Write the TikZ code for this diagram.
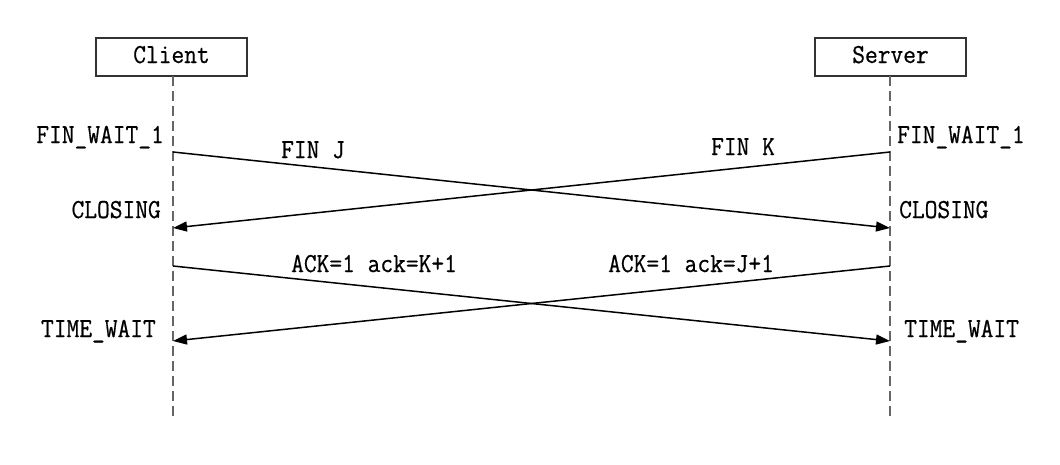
\documentclass[tikz,border=0pt]{standalone}
\usepackage{fontspec}
\newfontfamily\seqfont[FakeStretch=0.9,FakeBold=0.6]{Latin Modern Mono}
\usetikzlibrary{arrows.meta}
\begin{document}
\begin{tikzpicture}[x=1pt,y=-1pt,
  every node/.style={font=\seqfont\fontsize{27.5}{28}\selectfont, inner sep=0pt},
  actor/.style={draw=black!80, line width=1.5pt, minimum width=151pt, minimum height=38pt},
  lifeline/.style={draw=black!60, line width=2.2pt, dash pattern=on 10pt off 5pt},
  msg/.style={draw=black, line width=1.5pt, -{Triangle[length=14pt,width=10pt]}},
  lbl/.style={anchor=base west}]
  \useasboundingbox (0,0) rectangle (1060,464);

  % participants
  \node[actor] (client) at (171.5,57) {};
  \node[actor] (server) at (890.5,57) {};
  \node[anchor=base] at (171.5,63) {Client};
  \node[anchor=base] at (890.5,63) {Server};

  % lifeline ends
  \coordinate (cend) at (173,416);
  \coordinate (send) at (890,416);
  \draw[lifeline] (173,76) -- (cend);
  \draw[lifeline] (890,76) -- (send);

  % message end points on the lifelines
  \coordinate (c1) at (173,152);
  \coordinate (c2) at (173,228);
  \coordinate (c3) at (173,266);
  \coordinate (c4) at (173,341);
  \coordinate (s1) at (890,152);
  \coordinate (s2) at (890,228);
  \coordinate (s3) at (890,266);
  \coordinate (s4) at (890,341);

  % messages
  \draw[msg] (c1) -- (s2);
  \draw[msg] (s1) -- (c2);
  \draw[msg] (c3) -- (s4);
  \draw[msg] (s3) -- (c4);

  % message labels
  \node[lbl] (finj) at (281,158) {FIN J};
  \node[lbl] (fink) at (711,155) {FIN K};
  \node[lbl] (ackk) at (291,272) {ACK=1 ack=K+1};
  \node[lbl] (ackj) at (608,272) {ACK=1 ack=J+1};

  % client states
  \node[anchor=base east] (cfw) at (164,143) {FIN\_WAIT\_1};
  \node[anchor=base east] (ccl) at (161,218) {CLOSING};
  \node[anchor=base east] (ctw) at (156,337) {TIME\_WAIT};

  % server states
  \node[lbl] (sfw) at (897,143) {FIN\_WAIT\_1};
  \node[lbl] (scl) at (899,218) {CLOSING};
  \node[lbl] (stw) at (904,337) {TIME\_WAIT};
\end{tikzpicture}
\end{document}
